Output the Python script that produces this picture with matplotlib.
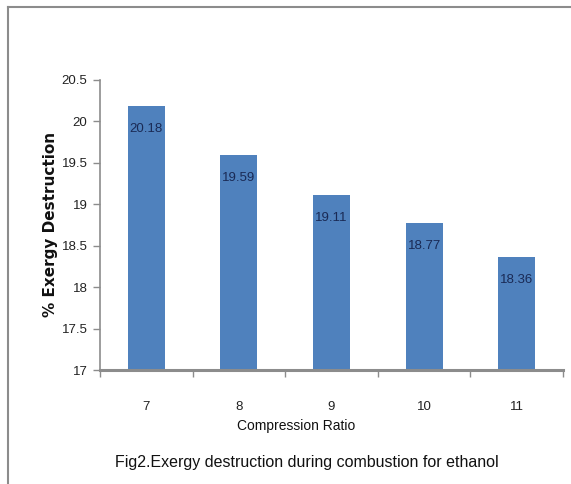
import numpy as np
import matplotlib
matplotlib.use('Agg')
import matplotlib.pyplot as plt
from matplotlib.lines import Line2D

# data
compression_ratio = ['7', '8', '9', '10', '11']
exergy_destruction = [20.18, 19.59, 19.11, 18.77, 18.36]
y_ticks = [17, 17.5, 18, 18.5, 19, 19.5, 20, 20.5]
y_tick_labels = ['17', '17.5', '18', '18.5', '19', '19.5', '20', '20.5']

plt.rcParams['font.family'] = ['Liberation Sans', 'DejaVu Sans']

fig = plt.figure(figsize=(5.71, 4.84), dpi=100)
ax = fig.add_axes([0.175, 0.2355, 0.811, 0.6])

# outer frame (left and top only)
fig.add_artist(Line2D([8/571, 8/571], [0, 1 - 7/484], color='#8c8c8c', lw=1.5))
fig.add_artist(Line2D([8/571, 1], [1 - 7/484, 1 - 7/484], color='#8c8c8c', lw=1.5))

x = np.arange(len(compression_ratio))
ax.bar(x, exergy_destruction, width=0.4, color='#4f81bd')
for xi, v in zip(x, exergy_destruction):
    ax.text(xi, v - 0.28, '{:.2f}'.format(v), ha='center', va='center',
            fontsize=9.5, color='#1a2a55')

ax.set_ylim(17, 20.5)
ax.set_xlim(-0.5, len(compression_ratio) - 0.5)
ax.set_yticks(y_ticks)
ax.set_yticklabels(y_tick_labels, fontsize=9.5, color='#222222')

ax.set_xticks(np.arange(-0.5, len(compression_ratio)), minor=False)
ax.set_xticklabels([])
ax.set_xticks(x, minor=True)
ax.set_xticklabels(compression_ratio, minor=True, fontsize=9.5, color='#222222')
ax.tick_params(axis='x', which='major', length=5, width=1, color='#8c8c8c', direction='out')
ax.tick_params(axis='x', which='minor', length=0, pad=22)
ax.tick_params(axis='y', length=5, width=1, color='#8c8c8c', direction='out', pad=4)

for s in ['top', 'right']:
    ax.spines[s].set_visible(False)
ax.spines['left'].set_color('#8c8c8c')
ax.spines['left'].set_linewidth(1.2)
ax.spines['bottom'].set_color('#8c8c8c')
ax.spines['bottom'].set_linewidth(2.2)

ax.set_xlabel('Compression Ratio', fontsize=10, color='#111111')
ax.xaxis.set_label_coords(0.423, -0.168)
ax.set_ylabel('% Exergy Destruction', fontsize=11, fontweight='bold',
              family='DejaVu Sans', color='#111111')
ax.yaxis.set_label_coords(-0.09, 0.5)

fig.text(0.538, 1 - 462/484, 'Fig2.Exergy destruction during combustion for ethanol',
         ha='center', va='center', fontsize=11.5, color='#111111')

plt.savefig('out.png', dpi=100)
